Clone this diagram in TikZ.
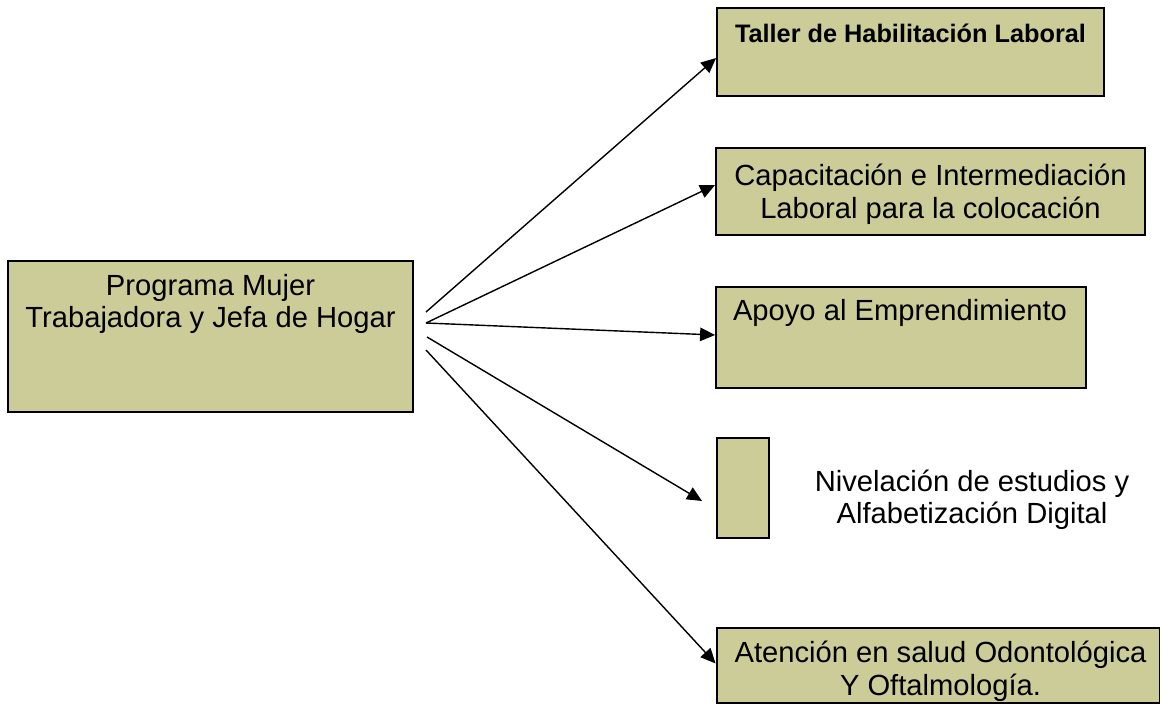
\documentclass[tikz,border=0pt]{standalone}
\usepackage{fontspec}
\setmainfont{Liberation Sans}
\usetikzlibrary{positioning,arrows.meta}
\definecolor{boxfill}{RGB}{204,204,153}
\tikzset{
  box/.style={draw, line width=1.1pt, fill=boxfill, inner sep=0pt},
  txt/.style={align=center, inner sep=0pt, font=\fontsize{16.6}{18.3}\selectfont},
  arr/.style={->, >={Triangle[length=0.3cm,width=0.27cm]}, line width=0.8pt}
}
\begin{document}
\begin{tikzpicture}[x=0.02cm, y=-0.02cm]
    \useasboundingbox (0,0) rectangle (1162,705);

    % Main programme box
    \node[box, minimum width=8.1cm, minimum height=3.02cm] (prog) at (210.5,336.5) {};
    \node[txt, below=0.28cm of prog.north] (progtxt) {Programa Mujer\\Trabajadora y Jefa de Hogar};

    % Component boxes
    \node[box, minimum width=7.74cm, minimum height=1.76cm] (taller) at (910.5,52) {};
    \node[txt, below=0.34cm of taller.north, font=\fontsize{14.4}{16}\selectfont\bfseries] (tallertxt) {Taller de Habilitación Laboral};

    \node[box, minimum width=8.58cm, minimum height=1.74cm] (capac) at (930.5,191.5) {};
    \node[txt, below=0.34cm of capac.north] (capactxt) {Capacitación e Intermediación\\Laboral para la colocación};

    \node[box, minimum width=7.4cm, minimum height=2.02cm] (apoyo) at (901,337.5) {};
    \node[txt, below=0.26cm of apoyo.north, xshift=-0.02cm] (apoyotxt) {Apoyo al Emprendimiento};

    \node[box, minimum width=1.04cm, minimum height=2cm] (nivel) at (743,488) {};
    \node[txt, anchor=north] (niveltxt) at (972,470) {Nivelación de estudios y\\Alfabetización Digital};

    \node[box, minimum width=8.86cm, minimum height=1.5cm] (salud) at (938,665.5) {};
    \node[txt, below=0.28cm of salud.north, xshift=0.05cm] (saludtxt) {Atención en salud Odontológica\\Y Oftalmología.};

    % Arrow origins
    \coordinate (o1) at (426,312);
    \coordinate (o2) at (426,323);
    \coordinate (o3) at (427,337);
    \coordinate (o4) at (426,350);

    % Arrows
    \draw[arr] (o1) -- ([yshift=-0.12cm]taller.west);
    \draw[arr] (o2) -- ([yshift=0.13cm]capac.west);
    \draw[arr] (o2) -- ([yshift=0.05cm]apoyo.west);
    \draw[arr] (o3) -- ([xshift=-0.28cm,yshift=-0.26cm]nivel.west);
    \draw[arr] (o4) -- ([yshift=0.04cm]salud.west);
\end{tikzpicture}
\end{document}
